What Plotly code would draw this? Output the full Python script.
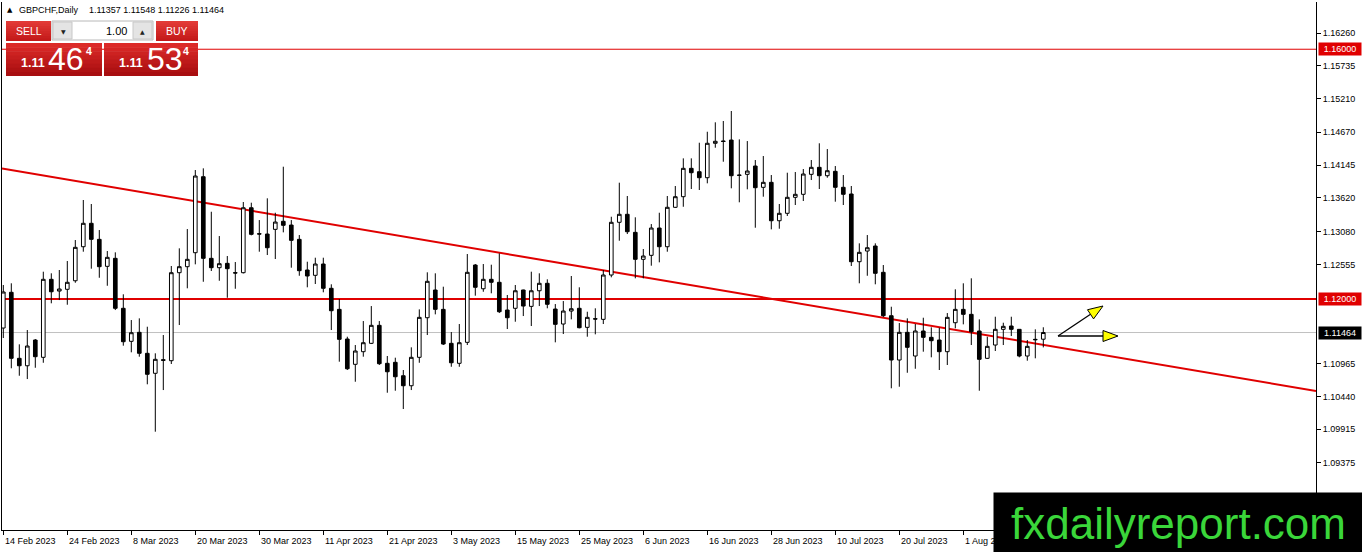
import plotly.graph_objects as go
import pandas as pd

# ---------------- DATA ----------------
symbol_text = "GBPCHF,Daily"
header_ohlc = "1.11357 1.11548 1.11226 1.11464"
dates = pd.bdate_range("2023-02-14", "2023-08-15")

opens = [1.11536, 1.12108, 1.11051, 1.10932, 1.11344, 1.11067, 1.12316, 1.12128, 1.12156, 1.12293,
         1.12838, 1.13213, 1.12956, 1.12524, 1.12652, 1.11852, 1.11323, 1.11467, 1.11131, 1.10811,
         1.11029, 1.11013, 1.12422, 1.12518, 1.12742, 1.13959, 1.12652, 1.12502, 1.12572, 1.12422,
         1.12422, 1.13462, 1.13046, 1.13041, 1.13116, 1.13245, 1.13185, 1.12956, 1.12465, 1.12380,
         1.12561, 1.12172, 1.11835, 1.11360, 1.10955, 1.11157, 1.11291, 1.11579, 1.10971, 1.10987,
         1.10772, 1.10612, 1.11067, 1.11701, 1.12145, 1.11835, 1.11291, 1.10971, 1.11307, 1.12545,
         1.12165, 1.12316, 1.12268, 1.11824, 1.11852, 1.12145, 1.11883, 1.12133, 1.12252, 1.11840,
         1.11600, 1.11808, 1.11852, 1.11547, 1.11685, 1.11675, 1.12385, 1.13229, 1.13357, 1.13068,
         1.12636, 1.12700, 1.13137, 1.12838, 1.13469, 1.13639, 1.14093, 1.14039, 1.13943, 1.14494,
         1.14531, 1.14546, 1.13986, 1.13997, 1.14130, 1.13789, 1.13869, 1.13254, 1.13373, 1.13629,
         1.13677, 1.13997, 1.14109, 1.13975, 1.14045, 1.13789, 1.13682, 1.12598, 1.12769, 1.12849,
         1.12428, 1.11733, 1.11024, 1.11467, 1.11088, 1.11488, 1.11387, 1.11344, 1.11157, 1.11621,
         1.11835, 1.11755, 1.11488, 1.11051, 1.11264, 1.11515, 1.11568, 1.11515, 1.11088, 1.11355,
         1.11357]
highs = [1.12225, 1.12252, 1.11275, 1.11504, 1.11360, 1.12438, 1.12412, 1.12465, 1.12609, 1.12945,
         1.13586, 1.13522, 1.13105, 1.12769, 1.12748, 1.12076, 1.11664, 1.11691, 1.11557, 1.11131,
         1.11424, 1.12529, 1.12812, 1.13121, 1.14066, 1.14093, 1.13398, 1.13009, 1.12689, 1.12593,
         1.13554, 1.13543, 1.13265, 1.13613, 1.13382, 1.14119, 1.13265, 1.13025, 1.12598, 1.12662,
         1.12662, 1.12236, 1.12000, 1.11397, 1.11264, 1.11648, 1.11888, 1.11648, 1.11088, 1.11061,
         1.10864, 1.11227, 1.11835, 1.12428, 1.12412, 1.12198, 1.11472, 1.11600, 1.12721, 1.12561,
         1.12561, 1.12550, 1.12732, 1.12065, 1.12225, 1.12150, 1.12438, 1.12412, 1.12316, 1.11920,
         1.11968, 1.12369, 1.12188, 1.11797, 1.11852, 1.12465, 1.13318, 1.13863, 1.13650, 1.13309,
         1.12801, 1.13201, 1.13382, 1.13650, 1.13810, 1.14253, 1.14253, 1.14503, 1.14679, 1.14830,
         1.14851, 1.15011, 1.14557, 1.14530, 1.14226, 1.14290, 1.13986, 1.13522, 1.14023, 1.14034,
         1.14082, 1.14226, 1.14494, 1.14402, 1.14130, 1.13986, 1.13810, 1.12892, 1.13025, 1.12892,
         1.12545, 1.11877, 1.11616, 1.11691, 1.11600, 1.11701, 1.11547, 1.11541, 1.11776, 1.12156,
         1.12252, 1.12332, 1.11675, 1.11397, 1.11717, 1.11621, 1.11717, 1.11515, 1.11344, 1.11515,
         1.11548]
lows = [1.11376, 1.10891, 1.10772, 1.10719, 1.10900, 1.10980, 1.11932, 1.11984, 1.11909, 1.12261,
        1.12758, 1.12486, 1.12341, 1.12213, 1.11824, 1.11253, 1.11147, 1.11077, 1.10635, 1.09876,
        1.10543, 1.10960, 1.11584, 1.12172, 1.12556, 1.12277, 1.12449, 1.12293, 1.12021, 1.12165,
        1.12410, 1.13020, 1.12758, 1.12705, 1.12641, 1.13068, 1.12502, 1.12373, 1.12188, 1.12241,
        1.12108, 1.11504, 1.10997, 1.10864, 1.10676, 1.11077, 1.11280, 1.10944, 1.10500, 1.10532,
        1.10239, 1.10543, 1.10980, 1.11424, 1.11755, 1.11264, 1.10916, 1.10916, 1.11264, 1.12054,
        1.12117, 1.12092, 1.11776, 1.11520, 1.11637, 1.11728, 1.11568, 1.11888, 1.11852, 1.11307,
        1.11440, 1.11675, 1.11531, 1.11397, 1.11435, 1.11600, 1.12348, 1.12934, 1.13041, 1.12332,
        1.12332, 1.12534, 1.12588, 1.12758, 1.13460, 1.13478, 1.13762, 1.13746, 1.13853, 1.14423,
        1.14199, 1.13773, 1.13549, 1.13757, 1.13142, 1.13639, 1.13116, 1.13126, 1.13330, 1.13506,
        1.13570, 1.13906, 1.13762, 1.13943, 1.13559, 1.13506, 1.12529, 1.12252, 1.12373, 1.12236,
        1.11712, 1.10571, 1.10596, 1.10820, 1.10884, 1.11157, 1.11067, 1.10864, 1.10944, 1.11531,
        1.11595, 1.11264, 1.10532, 1.11040, 1.11168, 1.11264, 1.11408, 1.11067, 1.11013, 1.11051,
        1.11226]
closes = [1.12113, 1.11051, 1.10932, 1.11248, 1.11077, 1.12316, 1.12117, 1.12161, 1.12268, 1.12828,
          1.13213, 1.12956, 1.12518, 1.12668, 1.11852, 1.11317, 1.11461, 1.11131, 1.10795, 1.11035,
          1.11019, 1.12422, 1.12518, 1.12636, 1.13970, 1.12652, 1.12502, 1.12566, 1.12486, 1.12417,
          1.13462, 1.13036, 1.13041, 1.12822, 1.13233, 1.13181, 1.12940, 1.12454, 1.12369, 1.12561,
          1.12172, 1.11813, 1.11355, 1.10884, 1.11168, 1.11301, 1.11579, 1.10965, 1.10836, 1.10756,
          1.10612, 1.11067, 1.11707, 1.12284, 1.11835, 1.11280, 1.10980, 1.11301, 1.12428, 1.12188,
          1.12316, 1.12268, 1.11797, 1.11701, 1.12133, 1.11888, 1.12133, 1.12252, 1.11916, 1.11595,
          1.11808, 1.11845, 1.11541, 1.11707, 1.11680, 1.12385, 1.13229, 1.13357, 1.13078, 1.12636,
          1.12689, 1.13137, 1.12838, 1.13469, 1.13639, 1.14093, 1.14023, 1.13943, 1.14494, 1.14526,
          1.14523, 1.13975, 1.13981, 1.14050, 1.13783, 1.13869, 1.13254, 1.13373, 1.13629, 1.13677,
          1.14002, 1.14109, 1.13975, 1.14055, 1.13789, 1.13677, 1.12598, 1.12748, 1.12822, 1.12412,
          1.11733, 1.11024, 1.11467, 1.11227, 1.11488, 1.11387, 1.11333, 1.11157, 1.11707, 1.11835,
          1.11755, 1.11477, 1.11035, 1.11243, 1.11515, 1.11563, 1.11515, 1.11088, 1.11243, 1.11349,
          1.11464]

date_tick_labels = ["14 Feb 2023", "24 Feb 2023", "8 Mar 2023", "20 Mar 2023", "30 Mar 2023",
                    "11 Apr 2023", "21 Apr 2023", "3 May 2023", "15 May 2023", "25 May 2023",
                    "6 Jun 2023", "16 Jun 2023", "28 Jun 2023", "10 Jul 2023", "20 Jul 2023",
                    "1 Aug 2023"]
price_ticks = [1.16260, 1.15735, 1.15210, 1.14670, 1.14145, 1.13620, 1.13080, 1.12555,
               1.10965, 1.10440, 1.09915, 1.09375]
level_lines = [1.16000, 1.12000]
bid_price = 1.11464
trend_line_prices = [1.14090, 1.10528]   # at left and right edge of the plot
sell_price = ("1.11", "46", "4")
buy_price = ("1.11", "53", "4")
lot_size = "1.00"
watermark = "fxdailyreport.com"

# ---------------- GEOMETRY ----------------
W, H = 1362, 552
ML, MR, MT, MB = 2, 46, 2, 22
PW, PH = W - ML - MR, H - MT - MB
BAR_PX = 8.0
FIRST_BAR_PX = 3.3
PRICE_PER_PX = 0.00016012
X0 = -(FIRST_BAR_PX - ML) / BAR_PX
X1 = X0 + PW / BAR_PX
Y1 = 1.167564
Y0 = Y1 - PH * PRICE_PER_PX
FONT = "Liberation Sans, Arial, sans-serif"


def dx(px):
    return X0 + (px - ML) / BAR_PX


def dy(py):
    return Y1 - (py - MT) * PRICE_PER_PX


def pxp(px):
    return (px - ML) / PW


def pyp(py):
    return (MT + PH - py) / PH


n = len(closes)
xs = list(range(n))

fig = go.Figure()
fig.add_trace(go.Candlestick(
    x=xs, open=opens, high=highs, low=lows, close=closes,
    text=[d.strftime("%Y.%m.%d") for d in dates],
    increasing=dict(fillcolor="white", line=dict(color="black", width=1)),
    decreasing=dict(fillcolor="black", line=dict(color="black", width=1)),
    whiskerwidth=0, hoverinfo="text+y", showlegend=False,
))

shapes = []
shapes.append(dict(type="line", xref="paper", yref="y", x0=0, x1=1, y0=bid_price, y1=bid_price,
                   line=dict(color="#c0c0c0", width=1), layer="below"))
shapes.append(dict(type="line", xref="paper", yref="y", x0=0, x1=1, y0=level_lines[0], y1=level_lines[0],
                   line=dict(color="#e00000", width=1), layer="below"))
shapes.append(dict(type="line", xref="paper", yref="y", x0=0, x1=1, y0=level_lines[1], y1=level_lines[1],
                   line=dict(color="#e00000", width=2), layer="below"))
shapes.append(dict(type="line", xref="x", yref="y", x0=X0, x1=X1,
                   y0=trend_line_prices[0], y1=trend_line_prices[1],
                   line=dict(color="#e00000", width=2), layer="below"))


def arrow(sx, sy, tx, ty, head=15, half=5.5):
    import math
    L = math.hypot(tx - sx, ty - sy)
    ux, uy = (tx - sx) / L, (ty - sy) / L
    bx, by = tx - head * ux, ty - head * uy
    nx, ny = -uy, ux
    shapes.append(dict(type="line", xref="x", yref="y", x0=dx(sx), y0=dy(sy), x1=dx(bx), y1=dy(by),
                       line=dict(color="black", width=1.3)))
    pts = [(tx, ty), (bx + half * nx, by + half * ny), (bx - half * nx, by - half * ny)]
    path = "M " + " L ".join(f"{dx(a)},{dy(b)}" for a, b in pts) + " Z"
    shapes.append(dict(type="path", xref="x", yref="y", path=path, fillcolor="#ffff00",
                       line=dict(color="black", width=1)))


arrow(1058, 336, 1103, 306)
arrow(1058, 336, 1118, 336)


def hexmix(c1, c2, t):
    a = [int(c1[i:i + 2], 16) for i in (1, 3, 5)]
    b = [int(c2[i:i + 2], 16) for i in (1, 3, 5)]
    return "#" + "".join(f"{round(a[k] + (b[k] - a[k]) * t):02x}" for k in range(3))


def grad_rect(x0, y0, x1, y1, ctop, cbot, steps=8):
    for k in range(steps):
        ya = y0 + (y1 - y0) * k / steps
        yb = y0 + (y1 - y0) * (k + 1) / steps + (0.6 if k < steps - 1 else 0)
        shapes.append(dict(type="rect", xref="paper", yref="paper",
                           x0=pxp(x0), x1=pxp(x1), y0=pyp(ya), y1=pyp(yb),
                           fillcolor=hexmix(ctop, cbot, k / (steps - 1)), line=dict(width=0), layer="above"))


def rect(x0, y0, x1, y1, fill, line_color=None, lw=0):
    shapes.append(dict(type="rect", xref="paper", yref="paper", x0=pxp(x0), x1=pxp(x1), y0=pyp(y0), y1=pyp(y1),
                       fillcolor=fill, line=dict(color=line_color or fill, width=lw), layer="above"))


grad_rect(6, 21, 51, 41, "#e23a36", "#c41a1a")
grad_rect(156, 21, 198, 41, "#e23a36", "#c41a1a")
rect(52, 21, 153, 40, "white", "#b8b8b8", 1)
rect(53, 22, 72, 39, "#e4e4e4", "#c8c8c8", 1)
rect(133, 22, 152, 39, "#e4e4e4", "#c8c8c8", 1)
grad_rect(6, 43, 102, 76, "#dc2a28", "#a80e10")
grad_rect(104, 43, 198, 76, "#dc2a28", "#a80e10")

annotations = []


def txt(px, py, text, size, color="black", xanchor="left", bold=False, family=FONT):
    if bold:
        text = f"<b>{text}</b>"
    annotations.append(dict(xref="paper", yref="paper", x=pxp(px), y=pyp(py), text=text,
                            showarrow=False, xanchor=xanchor, yanchor="middle", borderpad=0,
                            font=dict(family=family, size=size, color=color)))


txt(6, 10, "▲", 7, family="DejaVu Sans")
txt(18, 10, symbol_text, 9)
txt(88, 10, header_ohlc, 9)
txt(28.5, 31, "SELL", 10.5, "white", "center")
txt(177, 31, "BUY", 10.5, "white", "center")
txt(63, 31, "▼", 6, "#222222", "center", family="DejaVu Sans")
txt(142.5, 31, "▲", 6, "#222222", "center", family="DejaVu Sans")
txt(128, 31, lot_size, 11, "black", "right")
for (x_small, x_big, x_sup), (p_small, p_big, p_sup) in (((20, 47, 84.5), sell_price), ((117.5, 146, 181.5), buy_price)):
    txt(x_small, 63.5, p_small, 12.5, "white", bold=True)
    txt(x_big, 58.5, p_big, 32, "white")
    txt(x_sup, 51, p_sup, 10.5, "white", bold=True)

for k, lab in enumerate(date_tick_labels):
    tick_px = FIRST_BAR_PX + 8 * k * BAR_PX
    txt(tick_px + 1, 541, lab, 9)

for price, bg in ((level_lines[0], "#e00000"), (level_lines[1], "#e00000"), (bid_price, "black")):
    annotations.append(dict(xref="paper", yref="y", x=pxp(1318), y=price, text=f"{price:.5f}",
                            showarrow=False, xanchor="left", yanchor="middle", bgcolor=bg,
                            width=42, height=12, borderpad=0, align="center",
                            font=dict(family=FONT, size=9, color="white")))

annotations.append(dict(xref="paper", yref="paper", x=pxp(993), y=pyp(492), text=watermark,
                        showarrow=False, xanchor="left", yanchor="top", bgcolor="black",
                        width=369, height=60, borderpad=0, align="center", valign="middle",
                        font=dict(family=FONT, size=44, color="#3ad63a")))

fig.update_layout(
    width=W, height=H,
    margin=dict(l=ML, r=MR, t=MT, b=MB, pad=0),
    paper_bgcolor="white", plot_bgcolor="white",
    boxgap=0.35,
    showlegend=False,
    shapes=shapes, annotations=annotations,
    xaxis=dict(range=[X0, X1], tickvals=[8 * k for k in range(len(date_tick_labels) + 1)],
               showticklabels=False, ticks="outside", ticklen=4, tickcolor="black",
               showline=True, linecolor="black", linewidth=1, showgrid=False, zeroline=False,
               rangeslider=dict(visible=False), fixedrange=True),
    yaxis=dict(range=[Y0, Y1], side="right", tickvals=price_ticks,
               ticktext=[f"{v:.5f}" for v in price_ticks],
               ticks="outside", ticklen=4, tickcolor="black",
               tickfont=dict(family=FONT, size=9, color="black"),
               showline=True, mirror=True, linecolor="black", linewidth=1,
               showgrid=False, zeroline=False, fixedrange=True),
    font=dict(family=FONT, size=9, color="black"),
)

fig.write_html("out.html", config={"displayModeBar": False},
               post_script="document.body.style.margin='0';document.body.style.overflow='hidden';")
